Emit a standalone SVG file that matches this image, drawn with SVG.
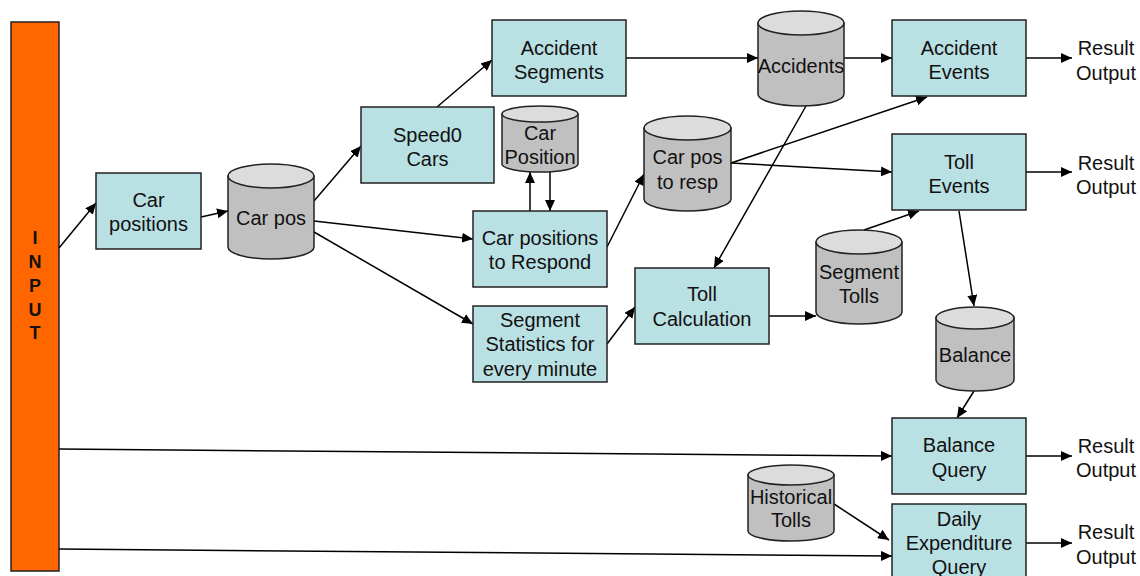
<svg xmlns="http://www.w3.org/2000/svg" width="1140" height="576" viewBox="0 0 1140 576">
<style>
.box{fill:#B9E0E3;stroke:#222;stroke-width:1.5}
.cyl{fill:#C0C0C0;stroke:#222;stroke-width:1.5}
.cylt{fill:#DCDCDC;stroke:#222;stroke-width:1.5}
.t{font-family:"Liberation Sans",Arial,sans-serif;font-size:20px;fill:#111;text-anchor:middle}
.in{font-family:"Liberation Sans",Arial,sans-serif;font-size:18px;font-weight:bold;fill:#111;text-anchor:middle}
.c{stroke:#000;stroke-width:1.5;fill:none;marker-end:url(#ah)}
</style>
<defs>
<marker id="ah" markerUnits="userSpaceOnUse" markerWidth="12" markerHeight="10" refX="11" refY="5" orient="auto">
<path d="M0,0 L11,5 L0,10 Z" fill="#000"/>
</marker>
</defs>
<g id="input">
<rect x="11" y="22" width="48" height="549" fill="#FF6600" stroke="#222" stroke-width="1.5"/>
<text class="in" x="35" y="244">I</text>
<text class="in" x="35" y="268">N</text>
<text class="in" x="35" y="292">P</text>
<text class="in" x="35" y="316">U</text>
<text class="in" x="35" y="339">T</text>
</g>
<g id="connectors">
<line class="c" x1="59" y1="248" x2="96" y2="203"/>
<line class="c" x1="201" y1="217" x2="228" y2="211"/>
<line class="c" x1="314" y1="201" x2="361" y2="146"/>
<line class="c" x1="314" y1="221" x2="473" y2="239"/>
<line class="c" x1="314" y1="232" x2="473" y2="324"/>
<line class="c" x1="437" y1="107" x2="492" y2="60"/>
<line class="c" x1="626" y1="58" x2="758" y2="58"/>
<line class="c" x1="844" y1="58" x2="892" y2="58"/>
<line class="c" x1="530" y1="211" x2="530" y2="172"/>
<line class="c" x1="550" y1="172" x2="550" y2="211"/>
<line class="c" x1="607" y1="247" x2="644" y2="174"/>
<line class="c" x1="731" y1="163" x2="927" y2="97"/>
<line class="c" x1="731" y1="163" x2="892" y2="172"/>
<line class="c" x1="806" y1="106" x2="714" y2="268"/>
<line class="c" x1="607" y1="344" x2="635" y2="307"/>
<line class="c" x1="769" y1="316" x2="816" y2="316"/>
<line class="c" x1="864" y1="230" x2="919" y2="211"/>
<line class="c" x1="959" y1="211" x2="974" y2="306"/>
<line class="c" x1="974" y1="391" x2="957" y2="418"/>
<line class="c" x1="834" y1="504" x2="889" y2="540"/>
<line class="c" x1="59" y1="449" x2="892" y2="456"/>
<line class="c" x1="59" y1="549" x2="892" y2="556"/>
<line class="c" x1="1026" y1="58" x2="1072" y2="58"/>
<line class="c" x1="1026" y1="172" x2="1072" y2="172"/>
<line class="c" x1="1026" y1="456" x2="1072" y2="456"/>
<line class="c" x1="1026" y1="543" x2="1072" y2="543"/>
</g>
<g id="car-positions">
<rect class="box" x="96" y="173" width="105" height="76"/>
<text class="t" x="148.5" y="207">Car</text>
<text class="t" x="148.5" y="231">positions</text>
</g>
<g id="car-pos">
<path class="cyl" d="M228,176 L228,247 A43,12 0 0 0 314,247 L314,176 Z"/>
<ellipse class="cylt" cx="271" cy="176" rx="43" ry="12"/>
<text class="t" x="271" y="225">Car pos</text>
</g>
<g id="speed0-cars">
<rect class="box" x="361" y="107" width="133" height="76"/>
<text class="t" x="427.5" y="142">Speed0</text>
<text class="t" x="427.5" y="166">Cars</text>
</g>
<g id="accident-segments">
<rect class="box" x="492" y="20" width="134" height="76"/>
<text class="t" x="559" y="55">Accident</text>
<text class="t" x="559" y="79">Segments</text>
</g>
<g id="car-position">
<path class="cyl" d="M502,114 L502,164 A38,8 0 0 0 578,164 L578,114 Z"/>
<ellipse class="cylt" cx="540" cy="114" rx="38" ry="8"/>
<text class="t" x="540" y="140">Car</text>
<text class="t" x="540" y="164">Position</text>
</g>
<g id="car-positions-to-respond">
<rect class="box" x="473" y="211" width="134" height="76"/>
<text class="t" x="540" y="245">Car positions</text>
<text class="t" x="540" y="269">to Respond</text>
</g>
<g id="segment-statistics">
<rect class="box" x="473" y="306" width="134" height="76"/>
<text class="t" x="540" y="327">Segment</text>
<text class="t" x="540" y="351">Statistics for</text>
<text class="t" x="540" y="376">every minute</text>
</g>
<g id="car-pos-to-resp">
<path class="cyl" d="M644,128 L644,199 A43.5,12 0 0 0 731,199 L731,128 Z"/>
<ellipse class="cylt" cx="687.5" cy="128" rx="43.5" ry="12"/>
<text class="t" x="687.5" y="164">Car pos</text>
<text class="t" x="687.5" y="189">to resp</text>
</g>
<g id="toll-calculation">
<rect class="box" x="635" y="268" width="134" height="76"/>
<text class="t" x="702" y="301">Toll</text>
<text class="t" x="702" y="326">Calculation</text>
</g>
<g id="accidents">
<path class="cyl" d="M758,23 L758,94 A43,12 0 0 0 844,94 L844,23 Z"/>
<ellipse class="cylt" cx="801" cy="23" rx="43" ry="12"/>
<text class="t" x="801" y="73">Accidents</text>
</g>
<g id="segment-tolls">
<path class="cyl" d="M816,242 L816,312 A43,12 0 0 0 902,312 L902,242 Z"/>
<ellipse class="cylt" cx="859" cy="242" rx="43" ry="12"/>
<text class="t" x="859" y="279">Segment</text>
<text class="t" x="859" y="303">Tolls</text>
</g>
<g id="accident-events">
<rect class="box" x="892" y="20" width="134" height="76"/>
<text class="t" x="959" y="55">Accident</text>
<text class="t" x="959" y="79">Events</text>
</g>
<g id="toll-events">
<rect class="box" x="892" y="134" width="134" height="76"/>
<text class="t" x="959" y="169">Toll</text>
<text class="t" x="959" y="193">Events</text>
</g>
<g id="balance">
<path class="cyl" d="M936,318 L936,380 A39,11 0 0 0 1014,380 L1014,318 Z"/>
<ellipse class="cylt" cx="975" cy="318" rx="39" ry="11"/>
<text class="t" x="975" y="362">Balance</text>
</g>
<g id="balance-query">
<rect class="box" x="892" y="418" width="134" height="76"/>
<text class="t" x="959" y="452">Balance</text>
<text class="t" x="959" y="477">Query</text>
</g>
<g id="historical-tolls">
<path class="cyl" d="M748,475 L748,531 A43,10 0 0 0 834,531 L834,475 Z"/>
<ellipse class="cylt" cx="791" cy="475" rx="43" ry="10"/>
<text class="t" x="791" y="504">Historical</text>
<text class="t" x="791" y="527">Tolls</text>
</g>
<g id="daily-expenditure-query">
<rect class="box" x="892" y="504" width="134" height="76"/>
<text class="t" x="959" y="526">Daily</text>
<text class="t" x="959" y="550">Expenditure</text>
<text class="t" x="959" y="574">Query</text>
</g>
<g id="outputs">
<text class="t" x="1106" y="55">Result</text>
<text class="t" x="1106" y="80">Output</text>
<text class="t" x="1106" y="170">Result</text>
<text class="t" x="1106" y="194">Output</text>
<text class="t" x="1106" y="453">Result</text>
<text class="t" x="1106" y="477">Output</text>
<text class="t" x="1106" y="539">Result</text>
<text class="t" x="1106" y="564">Output</text>
</g>
</svg>
